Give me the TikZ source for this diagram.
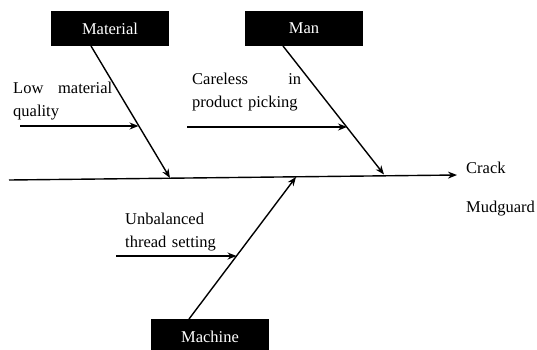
\documentclass[tikz,border=0pt]{standalone}
\usepackage{fontspec}
\setmainfont{Liberation Serif}
\usetikzlibrary{arrows.meta}
\begin{document}
\begin{tikzpicture}[x=1pt,y=-1pt,
  catbox/.style={fill=black,text=white,minimum width=118pt,minimum height=35pt,
    inner sep=0pt,font=\fontsize{16.5}{20}\selectfont},
  bone/.style={line width=1.4pt,-{Stealth[length=9pt,width=7pt]}},
  lbl/.style={inner sep=0pt,anchor=base west,align=left,
    font=\fontsize{16.5}{23}\selectfont}]
\useasboundingbox (0,0) rectangle (537,349);
\clip (0,0) rectangle (537,349);

% category boxes
\node[catbox] (material) at (110,28.5) {Material};
\node[catbox] (man)      at (304,28.5) {Man};
\node[catbox] (machine)  at (210,336.5) {Machine};

% spine
\coordinate (tail) at (9,180);
\coordinate (head) at (457,175);
\draw[bone] (tail) -- (head);

% main bones
\coordinate (matS) at (91,46);
\coordinate (matE) at (170,178);
\coordinate (manS) at (283,46);
\coordinate (manE) at (384,174.5);
\coordinate (macS) at (189,319);
\coordinate (macE) at (296,177);
\draw[bone] (matS) -- (matE);
\draw[bone] (manS) -- (manE);
\draw[bone] (macS) -- (macE);

% sub-causes
\coordinate (lmT) at (20,126);  \coordinate (lmH) at (138.5,126);
\coordinate (cpT) at (187,127); \coordinate (cpH) at (347,127);
\coordinate (utT) at (116,256); \coordinate (utH) at (236.5,256);
\draw[bone] (lmT) -- (lmH);
\draw[bone] (cpT) -- (cpH);
\draw[bone] (utT) -- (utH);

% labels
\node[lbl,text width=100pt] (lowmat) at (13,93)
  {\hbox to 99pt{Low\hfill material}\\quality};
\node[lbl,text width=110pt] (careless) at (192,84)
  {\hbox to 109pt{Careless\hfill in}\\product picking};
\node[lbl,text width=110pt] (unbal) at (125,224)
  {Unbalanced\\thread setting};
\node[lbl,text width=80pt] (effect) at (466,173)
  {Crack\\[16pt]Mudguard};
\end{tikzpicture}
\end{document}
